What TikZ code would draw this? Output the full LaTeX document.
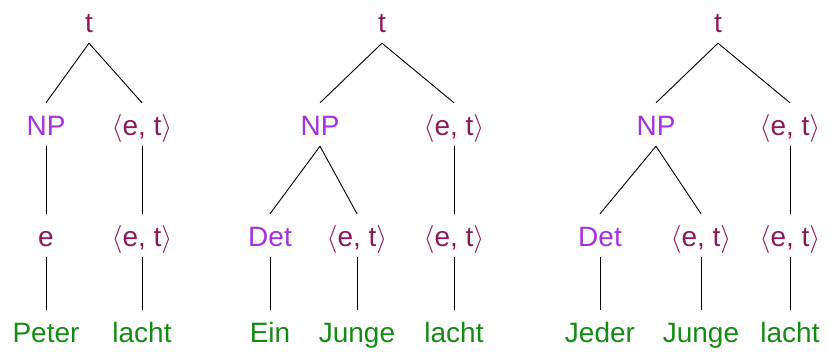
\RequirePackage{fix-cm}
\documentclass[tikz,border=0pt]{standalone}
\usepackage{fontspec}
\setmainfont{Liberation Sans}

\definecolor{typcol}{RGB}{140,25,85}
\definecolor{catcol}{RGB}{165,50,220}
\definecolor{wordcol}{RGB}{20,140,20}

\newcommand{\ettype}{$\langle$e, t$\rangle$}

\tikzset{
  lbl/.style={font=\fontsize{28}{32}\selectfont, anchor=base, inner xsep=2pt, inner ysep=6pt, text height=26pt, text depth=5pt},
  typ/.style={lbl, text=typcol},
  cat/.style={lbl, text=catcol},
  word/.style={lbl, text=wordcol},
  branch/.style={draw=black, line width=0.9pt}
}

\begin{document}
\begin{tikzpicture}[x=1pt, y=-1pt]
    \useasboundingbox (0,0) rectangle (828,354);

    % Peter lacht
    \node[typ] (t1) at (89,32) {t};
    \node[cat] (np1) at (46,135) {NP};
    \node[typ] (vp1) at (142,135) {\ettype};
    \node[typ] (e1) at (46,246) {e};
    \node[typ] (v1) at (142,246) {\ettype};
    \node[word] (peter) at (46,342) {Peter};
    \node[word] (lacht1) at (142,342) {lacht};

    % Ein Junge lacht
    \node[typ] (t2) at (382,32) {t};
    \node[cat] (np2) at (320,135) {NP};
    \node[typ] (vp2) at (454,135) {\ettype};
    \node[cat] (det2) at (270,246) {Det};
    \node[typ] (n2) at (357,246) {\ettype};
    \node[typ] (v2) at (454,246) {\ettype};
    \node[word] (ein) at (270,342) {Ein};
    \node[word] (junge2) at (357,342) {Junge};
    \node[word] (lacht2) at (454,342) {lacht};

    % Jeder Junge lacht
    \node[typ] (t3) at (718,32) {t};
    \node[cat] (np3) at (656,135) {NP};
    \node[typ] (vp3) at (790,135) {\ettype};
    \node[cat] (det3) at (600,246) {Det};
    \node[typ] (n3) at (701,246) {\ettype};
    \node[typ] (v3) at (790,246) {\ettype};
    \node[word] (jeder) at (600,342) {Jeder};
    \node[word] (junge3) at (701,342) {Junge};
    \node[word] (lacht3) at (790,342) {lacht};

    \draw[branch] (t1.south) -- (np1.north);
    \draw[branch] (t1.south) -- (vp1.north);
    \draw[branch] (np1.south) -- (e1.north);
    \draw[branch] (vp1.south) -- (v1.north);
    \draw[branch] (e1.south) -- (peter.north);
    \draw[branch] (v1.south) -- (lacht1.north);

    \draw[branch] (t2.south) -- (np2.north);
    \draw[branch] (t2.south) -- (vp2.north);
    \draw[branch] (np2.south) -- (det2.north);
    \draw[branch] (np2.south) -- (n2.north);
    \draw[branch] (vp2.south) -- (v2.north);
    \draw[branch] (det2.south) -- (ein.north);
    \draw[branch] (n2.south) -- (junge2.north);
    \draw[branch] (v2.south) -- (lacht2.north);

    \draw[branch] (t3.south) -- (np3.north);
    \draw[branch] (t3.south) -- (vp3.north);
    \draw[branch] (np3.south) -- (det3.north);
    \draw[branch] (np3.south) -- (n3.north);
    \draw[branch] (vp3.south) -- (v3.north);
    \draw[branch] (det3.south) -- (jeder.north);
    \draw[branch] (n3.south) -- (junge3.north);
    \draw[branch] (v3.south) -- (lacht3.north);
\end{tikzpicture}
\end{document}
